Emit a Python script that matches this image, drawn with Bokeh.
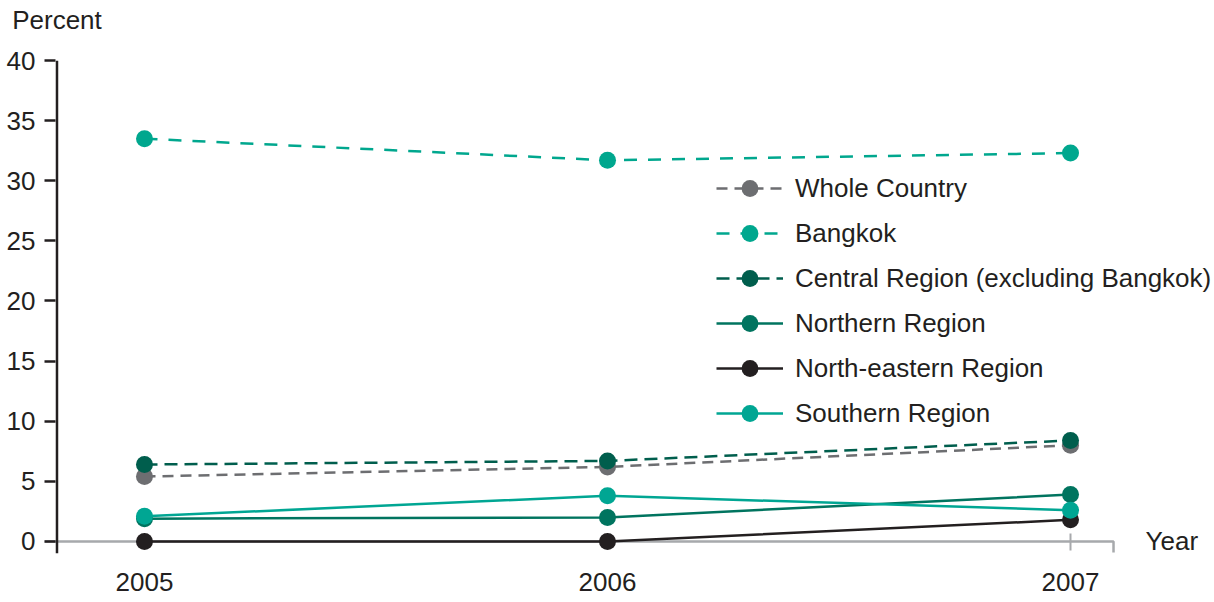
from bokeh.plotting import figure
from bokeh.models import Range1d, FixedTicker, Legend, LegendItem, Label, Span, LinearAxis
from bokeh.embed import file_html
from bokeh.resources import INLINE

# ---- data ----
years = [2005, 2006, 2007]
whole_country = [5.4, 6.2, 8.0]
bangkok = [33.5, 31.7, 32.3]
central = [6.4, 6.7, 8.4]
northern = [1.9, 2.0, 3.9]
north_eastern = [0.0, 0.0, 1.8]
southern = [2.1, 3.8, 2.6]
y_ticks = [0, 5, 10, 15, 20, 25, 30, 35, 40]
x_ticks = [2005, 2006, 2007]

series = [
    ("Whole Country", whole_country, "#6d6e71", "11 7"),
    ("Bangkok", bangkok, "#00a78e", "13 11"),
    ("Central Region (excluding Bangkok)", central, "#005e4d", "13 7"),
    ("Northern Region", northern, "#00745f", "solid"),
    ("North-eastern Region", north_eastern, "#231f20", "solid"),
    ("Southern Region", southern, "#00a693", "solid"),
]

FONT = "Liberation Sans"
FS = "26px"
TXT = "#231f20"

x0, x1 = 2004.78402, 2007.311
p = figure(width=1214, height=602, x_range=Range1d(x0, x1), y_range=Range1d(-1, 40),
           output_backend="svg", toolbar_location=None,
           min_border_left=44, min_border_right=0, min_border_top=60, min_border_bottom=49)
p.outline_line_color = None
p.xgrid.visible = False
p.ygrid.visible = False
p.background_fill_color = "white"

# y axis
p.yaxis.ticker = FixedTicker(ticks=y_ticks)
p.yaxis.axis_line_color = None
p.yaxis.major_tick_in = 11
p.yaxis.major_tick_out = 0
p.yaxis.minor_tick_line_color = None
p.yaxis.major_tick_line_color = TXT
p.yaxis.major_tick_line_width = 2.5
p.yaxis.major_label_standoff = 9
p.yaxis.major_label_text_font = FONT
p.yaxis.major_label_text_font_size = FS
p.yaxis.major_label_text_color = TXT

# x axis
p.xaxis.ticker = FixedTicker(ticks=x_ticks)
p.xaxis.axis_line_color = None
p.xaxis.major_tick_line_color = None
p.xaxis.minor_tick_line_color = None
p.xaxis.major_tick_in = 0
p.xaxis.major_tick_out = 0
p.xaxis.major_label_standoff = 19
p.xaxis.major_label_text_font = FONT
p.xaxis.major_label_text_font_size = FS
p.xaxis.major_label_text_color = TXT

# "Percent" title as a single-label axis above the y axis
y_axis_x = 2004.811
top_axis = LinearAxis(ticker=FixedTicker(ticks=[y_axis_x]),
                      major_label_overrides={y_axis_x: "Percent"},
                      axis_line_color=None, major_tick_line_color=None, minor_tick_line_color=None,
                      major_tick_in=0, major_tick_out=0, major_label_standoff=26,
                      major_label_text_font=FONT, major_label_text_font_size=FS,
                      major_label_text_color=TXT)
p.add_layout(top_axis, "above")

# vertical axis line
p.add_layout(Span(location=y_axis_x, dimension="height", line_color=TXT, line_width=2.5))

# grey baseline at 0 with end tick and 2007 tick
x_end_tick = 2007.0929
p.line([x0, x_end_tick, x_end_tick], [0, 0, -0.92], line_color="#a7a9ac", line_width=2.5)
p.segment(x0=[2007], y0=[0.67], x1=[2007], y1=[-0.75], line_color="#a7a9ac", line_width=2)

items = []
for name, vals, col, dash in series:
    ln = p.line(years, vals, line_color=col, line_width=2.5, line_dash=dash)
    sc = p.scatter(years, vals, size=17, fill_color=col, line_color=col, line_width=0)
    items.append(LegendItem(label=name, renderers=[ln, sc]))

legend = Legend(items=items, location=(672, 119), glyph_width=67, glyph_height=42,
                spacing=3, padding=0, margin=0, label_standoff=12,
                label_text_font=FONT, label_text_font_size=FS, label_text_color=TXT,
                border_line_color=None, background_fill_alpha=0)
p.add_layout(legend)

p.add_layout(Label(x=2007.162, y=0, text="Year", text_baseline="middle", text_align="left",
                   text_font=FONT, text_font_size=FS, text_color=TXT))

open("out.html", "w").write(file_html(p, INLINE))
